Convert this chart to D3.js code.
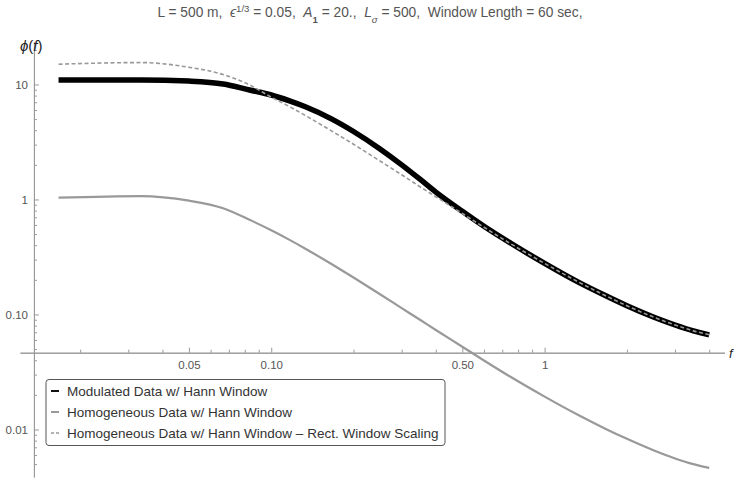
<!DOCTYPE html>
<html>
<head>
<meta charset="utf-8">
<script src="https://cdn.jsdelivr.net/npm/d3@7"></script>
<style>
  body { margin: 0; background: #fff; }
  svg { font-family: "Liberation Sans", Arial, sans-serif; }
</style>
</head>
<body>
<div id="canvas"></div>
<script>
// frequencies (Hz), bins of a 60 s window
const freqs = [0.01667, 0.03333, 0.05, 0.06667, 0.08333, 0.1, 0.11667, 0.13333, 0.16667, 0.2,
               0.25, 0.3, 0.35, 0.4, 0.5, 0.6, 0.75, 1, 1.3333, 1.6667, 2, 2.5, 3, 3.5, 4];
const modulated = [10.95, 10.95, 10.7, 10.1, 8.95, 8.1, 7.2, 6.4, 5.0, 3.9,
                   2.75, 2.0, 1.5, 1.16, 0.79, 0.585, 0.418, 0.278, 0.19, 0.146, 0.119, 0.095, 0.081, 0.072, 0.0665];
const homogeneous = [1.036, 1.07, 0.976, 0.838, 0.665, 0.539, 0.445, 0.373, 0.273, 0.2095,
                     0.150, 0.1136, 0.0899, 0.0733, 0.0524, 0.0398, 0.0287, 0.0193, 0.01328, 0.01016, 0.00829, 0.0066, 0.0056, 0.00499, 0.00463];
const rectScaled = [15.0, 15.5, 14.1, 12.2, 9.9, 7.76, 6.41, 5.37, 3.93, 3.02,
                    2.16, 1.64, 1.29, 1.056, 0.755, 0.573, 0.413, 0.278, 0.191, 0.146, 0.119, 0.095, 0.081, 0.072, 0.0667];

const xMajor = [0.05, 0.1, 0.5, 1];
const xMajorLabels = ["0.05", "0.10", "0.50", "1"];
const xMinor = [0.02, 0.03, 0.04, 0.06, 0.07, 0.08, 0.09, 0.2, 0.3, 0.4, 0.6, 0.7, 0.8, 0.9, 2, 3, 4];
const yMajor = [0.01, 0.1, 1, 10];
const yMajorLabels = ["0.01", "0.10", "1", "10"];
const yMinor = [0.005, 0.006, 0.007, 0.008, 0.009, 0.02, 0.03, 0.04, 0.05, 0.06, 0.07, 0.08, 0.09,
                0.2, 0.3, 0.4, 0.5, 0.6, 0.7, 0.8, 0.9, 2, 3, 4, 5, 6, 7, 8, 9, 20];

const legendLabels = [
  "Modulated Data w/ Hann Window",
  "Homogeneous Data w/ Hann Window",
  "Homogeneous Data w/ Hann Window \u2013 Rect. Window Scaling"
];

const width = 735, height = 481;
const axisColor = "#999", textColor = "#555";

const svg = d3.select("#canvas").append("svg")
  .attr("width", width)
  .attr("height", height);

const x = d3.scaleLog().domain([0.01205, 4.55]).range([20, 724.5]);
const y = d3.scaleLog().domain([0.00386, 23.4]).range([477, 42]);

// axes cross here
const xOrigin = 0.01355, yOrigin = 0.0465;

// shrink/grow a text's font so it spans a given width
function fitWidth(sel, base, target) {
  const w = sel.node().getComputedTextLength();
  const k = target / w;
  sel.style("font-size", (base * k) + "px");
  sel.selectAll("tspan.small").style("font-size", (base * 0.7 * k) + "px");
}

// title
const title = svg.append("text")
  .attr("x", 370).attr("y", 17)
  .attr("text-anchor", "middle")
  .style("white-space", "pre")
  .style("font-size", "12px")
  .style("fill", textColor);
title.append("tspan").text("L = 500 m,  ");
title.append("tspan").style("font-style", "italic").text("\u03F5");
title.append("tspan").attr("class", "small").attr("baseline-shift", "super").style("font-size", "8.4px").text("1/3");
title.append("tspan").text(" = 0.05,  ");
title.append("tspan").style("font-style", "italic").text("A");
title.append("tspan").attr("class", "small").attr("baseline-shift", "sub").style("font-size", "8.4px").style("font-weight", "bold").text("1");
title.append("tspan").text(" = 20.,  ");
title.append("tspan").style("font-style", "italic").text("L");
title.append("tspan").attr("class", "small").attr("baseline-shift", "sub").style("font-size", "8.4px").style("font-style", "italic").text("\u03C3");
title.append("tspan").text(" = 500,  Window Length = 60 sec,");
fitWidth(title, 12, 425);

// x axis
const gx = svg.append("g").attr("transform", `translate(0,${y(yOrigin)})`);
gx.append("g")
  .call(d3.axisBottom(x).tickValues(xMinor).tickSize(-3).tickSizeOuter(0).tickFormat(""));
gx.append("g")
  .call(d3.axisBottom(x).tickValues(xMajor).tickSize(-5).tickSizeOuter(0).tickPadding(8)
    .tickFormat((d, i) => xMajorLabels[i]));

// y axis
const gy = svg.append("g").attr("transform", `translate(${x(xOrigin)},0)`);
gy.append("g")
  .call(d3.axisLeft(y).tickValues(yMinor).tickSize(-3).tickSizeOuter(0).tickFormat(""));
gy.append("g")
  .call(d3.axisLeft(y).tickValues(yMajor).tickSize(-5).tickSizeOuter(0).tickPadding(6)
    .tickFormat((d, i) => yMajorLabels[i]));

svg.selectAll(".domain, .tick line").attr("stroke", axisColor);
svg.selectAll(".tick text").style("fill", textColor).style("font-size", "11.5px").attr("font-family", null);

// axis labels
svg.append("text")
  .attr("x", 729).attr("y", y(yOrigin) + 5)
  .style("font-style", "italic").style("font-size", "13px").style("fill", "#222")
  .text("f");
const yl = svg.append("text")
  .attr("x", 20).attr("y", 51)
  .style("font-size", "15px").style("fill", "#222");
yl.append("tspan").style("font-style", "italic").text("\u03D5");
yl.append("tspan").text("(");
yl.append("tspan").style("font-style", "italic").text("f");
yl.append("tspan").text(")");

// curves
const line = vals => d3.line()
  .x((d, i) => x(freqs[i]))
  .y(d => y(d))
  .curve(d3.curveMonotoneX)(vals);

svg.append("path").attr("d", line(homogeneous))
  .attr("fill", "none").attr("stroke", "#999").attr("stroke-width", 2.2);
svg.append("path").attr("d", line(modulated))
  .attr("fill", "none").attr("stroke", "#000").attr("stroke-width", 5.5);
svg.append("path").attr("d", line(rectScaled))
  .attr("fill", "none").attr("stroke", "#999").attr("stroke-width", 1.6)
  .attr("stroke-dasharray", "4,2.5");

// legend
const lg = svg.append("g");
lg.append("rect")
  .attr("x", 46).attr("y", 379.5).attr("width", 399).attr("height", 66)
  .attr("rx", 3)
  .attr("fill", "#fff").attr("stroke", "#555").attr("stroke-width", 1);
const sample = [
  { stroke: "#111", w: 2, dash: null },
  { stroke: "#999", w: 2, dash: null },
  { stroke: "#999", w: 1.5, dash: "3,2" }
];
legendLabels.forEach((t, i) => {
  const cy = 391 + i * 21;
  lg.append("line")
    .attr("x1", 51).attr("x2", 59).attr("y1", cy).attr("y2", cy)
    .attr("stroke", sample[i].stroke).attr("stroke-width", sample[i].w)
    .attr("stroke-dasharray", sample[i].dash);
  lg.append("text")
    .attr("x", 67).attr("y", cy + 4.5)
    .style("font-size", "13.5px").style("fill", "#333")
    .text(t);
});
</script>
</body>
</html>
